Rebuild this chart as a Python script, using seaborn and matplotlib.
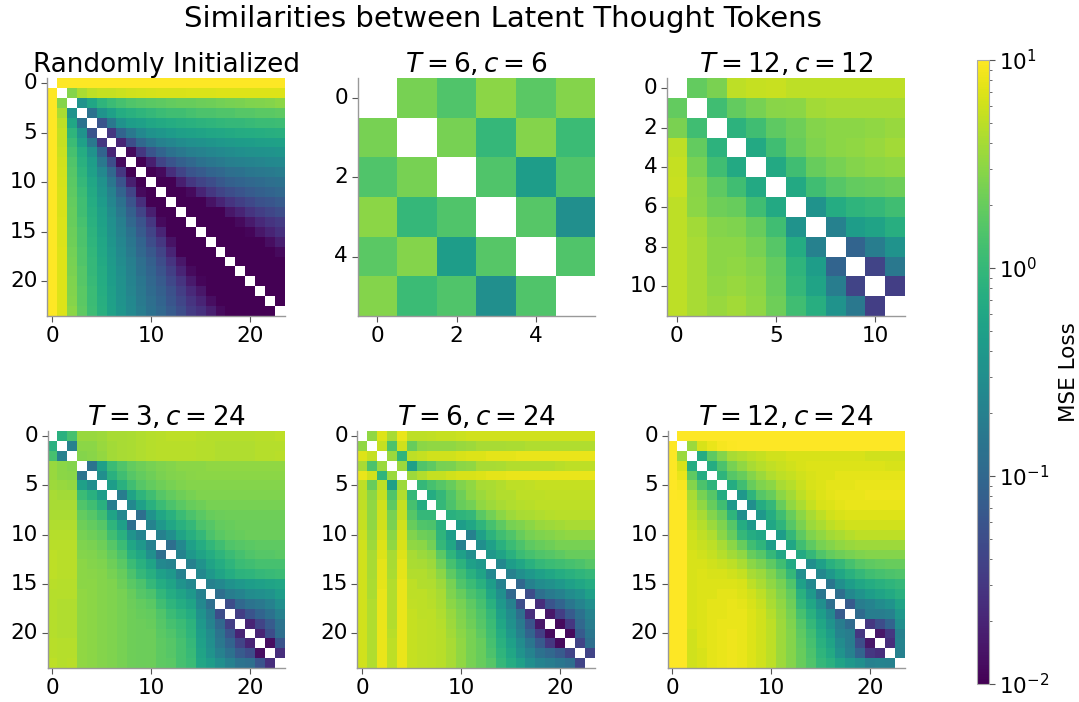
import numpy as np
import matplotlib
matplotlib.use("Agg")
import matplotlib.pyplot as plt
import seaborn as sns
from matplotlib.colors import LogNorm

# -----------------------------------
# DATA (upper triangle of each symmetric matrix)
# row i holds columns i+1 .. n-1, diagonal is blank
# -----------------------------------

random_rows = [
    [10, 10, 10, 10, 10, 10, 10, 10, 10, 10, 10, 10, 10, 10, 10, 10, 10, 10, 10, 10, 10, 10, 10],
    [2.8, 4.2, 5, 5.5, 5.5, 5.8, 6, 6.2, 6.4, 6.5, 6.5, 6.5, 6.8, 6.8, 6.8, 7, 7, 7, 7, 7, 7, 7],
    [.35, .6, .9, 1.1, 1.3, 1.5, 1.6, 1.7, 1.8, 1.9, 2, 2, 2.1, 2.2, 2.3, 2.4, 2.5, 2.6, 2.7, 2.8, 3],
    [.13, .35, .5, .7, .8, .9, 1, 1.1, 1.2, 1.2, 1.3, 1.4, 1.4, 1.5, 1.5, 1.6, 1.6, 1.7, 1.7, 1.8],
    [.06, .16, .33, .45, .5, .6, .65, .7, .75, .8, .85, .9, .95, 1, 1, 1.05, 1.1, 1.1, 1.15],
    [.03, .09, .16, .25, .33, .38, .43, .48, .52, .55, .6, .62, .65, .68, .7, .72, .75, .78],
    [.02, .05, .1, .15, .2, .24, .28, .31, .34, .37, .4, .42, .44, .46, .48, .5, .52],
    [.012, .03, .06, .09, .13, .16, .19, .21, .24, .26, .28, .3, .32, .34, .35, .37],
    [.01, .018, .04, .06, .08, .1, .13, .15, .17, .19, .2, .22, .23, .25, .26],
    [.01, .012, .025, .04, .06, .07, .09, .1, .12, .13, .15, .16, .17, .18],
    [.01, .01, .018, .03, .04, .05, .065, .08, .09, .1, .11, .12, .13],
    [.01, .01, .012, .02, .03, .04, .05, .06, .07, .08, .09, .1],
    [.01, .01, .01, .014, .02, .028, .036, .045, .055, .062, .07],
    [.01, .01, .01, .01, .015, .02, .028, .035, .042, .05],
    [.01, .01, .01, .01, .012, .016, .022, .028, .033],
    [.01, .01, .01, .01, .011, .015, .02, .026],
    [.01, .01, .01, .01, .01, .013, .018],
    [.01, .01, .01, .01, .01, .012],
    [.01, .01, .01, .01, .01],
    [.01, .01, .01, .01],
    [.01, .01, .01],
    [.01, .01],
    [.01],
]

t6_c6_rows = [
    [2.4, 1.5, 3, 1.7, 2.8],
    [2.4, 1.0, 2.8, 1.1],
    [1.5, .45, 1.5],
    [1.6, .3],
    [1.5],
]

t12_c12_rows = [
    [1.9, 2.5, 5, 5.5, 5.6, 5, 5, 5, 5, 5, 5],
    [1.2, 1.9, 2.4, 2.9, 3, 3.8, 4, 4, 4, 4],
    [.85, 1.2, 1.8, 2.2, 2.8, 3, 3, 3.2, 3.4],
    [.65, 1.2, 2.0, 2.6, 3, 3.2, 3.4, 3.8],
    [.65, 1.2, 2.0, 2.4, 2.8, 3, 3.2],
    [.65, 1.2, 1.6, 1.9, 2, 2.2],
    [.35, .7, .9, 1, 1.2],
    [.2, .45, .55, .75],
    [.09, .18, .35],
    [.04, .16],
    [.035],
]

t3_c24_rows = [
    [.8, 1.3, 3.4, 3.4, 3.6, 4, 4, 4.2, 4.4, 4.6, 4.8, 5, 5, 5, 4.8, 4.6, 4.6, 4.6, 4.6, 4.6, 4.8, 4.8, 5],
    [.2, 3, 3, 3.4, 3.8, 4, 4.2, 4.4, 4.6, 4.8, 4.8, 4.8, 4.8, 4.6, 4.6, 4.4, 4.4, 4.4, 4.4, 4.6, 4.6, 4.6],
    [2.8, 2.9, 3.3, 3.8, 4, 4.2, 4.4, 4.6, 4.8, 4.8, 4.8, 4.8, 4.6, 4.6, 4.4, 4.4, 4.4, 4.4, 4.6, 4.6, 4.8],
    [.14, .5, 1.1, 1.5, 1.9, 2.2, 2.4, 2.6, 2.8, 3, 3, 3, 3.2, 3.2, 3.2, 3.2, 3.2, 3.2, 3.2, 3.2],
    [.3, .8, 1.2, 1.6, 1.9, 2.2, 2.5, 2.7, 2.8, 2.9, 3, 3, 3, 3, 3, 3, 3, 3, 3],
    [.45, .8, 1.2, 1.6, 1.9, 2.2, 2.4, 2.6, 2.8, 2.8, 2.8, 2.8, 2.8, 2.8, 2.8, 2.8, 2.8, 2.8],
    [.18, .55, .9, 1.2, 1.6, 1.9, 2.2, 2.4, 2.6, 2.6, 2.6, 2.6, 2.6, 2.6, 2.6, 2.6, 2.6],
    [.25, .5, .8, 1.1, 1.4, 1.7, 2, 2.2, 2.4, 2.4, 2.4, 2.4, 2.4, 2.4, 2.4, 2.4],
    [.12, .35, .6, .8, 1.1, 1.4, 1.7, 2, 2.1, 2.2, 2.2, 2.2, 2.2, 2.2, 2.2],
    [.22, .4, .6, .8, 1, 1.4, 1.6, 1.9, 2, 2.1, 2.1, 2.1, 2.1, 2.1],
    [.2, .3, .55, .75, 1, 1.4, 1.7, 1.9, 2, 2.1, 2.1, 2.1, 2.1],
    [.12, .25, .5, .7, .95, 1.2, 1.5, 1.6, 1.7, 1.8, 1.8, 1.8],
    [.22, .4, .55, .7, .9, 1.1, 1.3, 1.5, 1.6, 1.6, 1.7],
    [.2, .35, .55, .7, .9, 1.1, 1.2, 1.3, 1.3, 1.3],
    [.25, .4, .55, .7, .85, .9, 1, 1.05, 1.1],
    [.2, .25, .33, .4, .45, .5, .55, .6],
    [.12, .18, .22, .28, .3, .35, .45],
    [.05, .1, .14, .16, .2, .3],
    [.035, .06, .09, .13, .2],
    [.02, .04, .07, .14],
    [.02, .05, .12],
    [.013, .06],
    [.025],
]

t6_c24_rows = [
    [3.2, 7, 4, 8, 5, 5, 5.2, 5.5, 5.5, 5.8, 6, 6, 6, 6, 6, 6, 6, 6, 6, 6, 6, 6, 6],
    [5.5, 1.4, 6, 2, 3, 3.2, 3.2, 3.2, 3.4, 3.6, 4, 4, 4, 4.2, 4.2, 4.4, 4.4, 4.4, 4.4, 4.4, 4.4, 4.4],
    [3.5, .9, 5, 5.5, 6, 6, 6, 6.5, 7, 7, 7.5, 7.5, 7.5, 8, 8, 8, 8, 8, 8, 8, 8],
    [3.5, .5, 1.5, 1.8, 2.4, 2.5, 3, 3.2, 4, 4, 4.2, 4.5, 4.5, 4.5, 4.5, 4.5, 4.8, 5, 5, 5],
    [3.6, 4.5, 5.5, 5.5, 6, 6.5, 6.5, 7, 7.5, 7.5, 8, 8, 8, 8, 8, 8, 8, 8, 8],
    [1, 1.3, 1.6, 2, 2.7, 3.2, 4, 4.2, 4.5, 5, 5, 5.2, 5.5, 5.5, 5.5, 5.5, 5.5, 5.5],
    [.7, 1, 1.5, 2.2, 3, 3.5, 4, 4.5, 4.5, 5, 5, 5, 5.2, 5.2, 5.2, 5.2, 5.2],
    [1, 1.4, 2, 2.3, 3.2, 3.6, 4, 4.4, 4.6, 4.8, 5, 5, 5, 5, 5, 5],
    [.8, .9, 1, 1.7, 2.3, 3, 3.6, 4, 4.2, 4.4, 4.6, 4.8, 4.8, 4.8, 4.8],
    [.45, .6, .9, 1.3, 1.8, 2.4, 2.6, 3, 3.4, 3.6, 3.8, 4, 4, 4],
    [.2, .5, .85, 1.2, 1.5, 2, 2.4, 2.6, 2.8, 3, 3.2, 3.2, 3.2],
    [.3, .5, .8, 1.1, 1.4, 1.8, 2, 2.2, 2.4, 2.4, 2.4, 2.4],
    [.4, .55, .8, 1.1, 1.3, 1.5, 1.6, 1.8, 2, 2, 2],
    [.25, .45, .6, .8, 1, 1.1, 1.2, 1.3, 1.4, 1.6],
    [.2, .3, .4, .5, .6, .7, .8, .9, 1],
    [.1, .2, .28, .32, .4, .5, .6, .7],
    [.05, .12, .17, .2, .28, .35, .5],
    [.025, .06, .09, .15, .22, .3],
    [.015, .035, .07, .13, .22],
    [.012, .03, .1, .18],
    [.012, .07, .15],
    [.04, .12],
    [.04],
]

t12_c24_rows = [
    [10, 10, 10, 10, 10, 10, 10, 10, 10, 10, 10, 10, 10, 10, 10, 10, 10, 10, 10, 10, 10, 10, 10],
    [3.5, 6.5, 8, 9, 9.5, 10, 10, 10, 10, 10, 10, 10, 10, 10, 10, 10, 10, 10, 10, 10, 10, 10],
    [.7, 1.8, 2.8, 4, 4.5, 5, 5.5, 6, 6, 6.5, 6.5, 6.5, 6.5, 6.5, 6.5, 6.5, 6.5, 6, 6, 6, 6],
    [.7, 1.4, 2.4, 3.2, 4, 4.6, 5.2, 5.6, 6, 6.5, 7, 7, 7, 7, 7, 7, 7, 7, 6.5, 6.5],
    [.9, 1.6, 2, 2.8, 3.5, 4.4, 5, 5.5, 6, 6.5, 7, 7, 7.5, 7.5, 7.5, 7.5, 7.5, 7.5, 7.5],
    [.7, 1.2, 2, 2.6, 3, 4, 4.6, 5.6, 6.5, 7, 7.5, 7.5, 7.5, 8, 8, 8, 8, 8],
    [.4, .9, 1.6, 2, 3, 3.8, 5, 6, 7, 7.5, 8, 8, 8, 8.5, 8.5, 8.5, 8.5],
    [.3, .7, 1, 2, 3.2, 4.2, 5.4, 6.5, 7, 7.5, 8, 8, 8, 8, 8, 8],
    [.4, .7, 1.2, 2, 3, 4, 5, 6, 6.5, 7, 7, 7, 7, 7, 7],
    [.6, .9, 1.6, 2.5, 3.5, 4.2, 5, 5.6, 6, 6, 6, 6, 6, 6],
    [.45, 1, 1.8, 2.6, 3.2, 3.8, 4.2, 4.6, 5, 5, 5, 5, 5],
    [.6, 1.2, 1.8, 2.4, 2.8, 3.2, 3.4, 3.6, 3.6, 3.6, 3.6, 3.6],
    [.65, 1, 1.5, 1.9, 2.2, 2.4, 2.6, 2.8, 2.8, 2.8, 2.8],
    [.3, .5, .8, 1, 1.3, 1.6, 1.8, 1.9, 2, 2],
    [.25, .4, .6, .8, 1, 1.2, 1.3, 1.4, 1.5],
    [.15, .3, .45, .6, .7, .8, .9, 1],
    [.12, .25, .35, .45, .55, .65, .8],
    [.07, .18, .22, .28, .35, .55],
    [.11, .18, .18, .2, .4],
    [.03, .05, .09, .3],
    [.015, .03, .2],
    [.025, .22],
    [.2],
]

panel_titles = [
    "Randomly Initialized", r"$T = 6, c = 6$", r"$T = 12, c = 12$",
    r"$T = 3, c = 24$", r"$T = 6, c = 24$", r"$T = 12, c = 24$",
]
panel_rows = [random_rows, t6_c6_rows, t12_c12_rows, t3_c24_rows, t6_c24_rows, t12_c24_rows]
x_steps = [10, 2, 5, 10, 10, 10]
y_steps = [5, 2, 2, 5, 5, 5]


def to_matrix(rows):
    n = len(rows) + 1
    mat = np.full((n, n), np.nan)
    for i, row in enumerate(rows):
        assert len(row) == n - i - 1, (n, i, len(row))
        mat[i, i + 1:] = row
        mat[i + 1:, i] = row
    return mat


# -----------------------------------
# FIGURE
# -----------------------------------

sns.set_theme(style="ticks", rc={"text.color": "black", "axes.labelcolor": "black",
                                 "xtick.labelcolor": "black", "ytick.labelcolor": "black"})
W, H = 1079, 702
fig = plt.figure(figsize=(W / 100, H / 100), dpi=100)


def px_axes(left, top, right, bottom):
    return fig.add_axes([left / W, 1 - bottom / H, (right - left) / W, (bottom - top) / H])


boxes = [
    (47, 78, 285, 316), (357, 78, 596, 316), (667, 78, 905, 316),
    (47, 431, 285, 668), (357, 431, 595, 668), (667, 431, 905, 668),
]
cax = px_axes(977, 60, 989, 684)
norm = LogNorm(vmin=0.01, vmax=10)

cb = None
for k in range(6):
    ax = px_axes(*boxes[k])
    mat = to_matrix(panel_rows[k])
    n = mat.shape[0]
    sns.heatmap(mat, ax=ax, cmap="viridis", norm=norm, square=True,
                cbar=k == 0, cbar_ax=cax if k == 0 else None,
                cbar_kws={"label": "MSE Loss"} if k == 0 else None)
    if k == 0:
        cb = ax.collections[0].colorbar
    xt = np.arange(0, n, x_steps[k])
    yt = np.arange(0, n, y_steps[k])
    ax.set_xticks(xt + 0.5, labels=[str(v) for v in xt], rotation=0)
    ax.set_yticks(yt + 0.5, labels=[str(v) for v in yt], rotation=0)
    ax.tick_params(labelsize=15.5, length=4, width=0.8, color="#555555", labelcolor="black", pad=3)
    for side in ["left", "bottom"]:
        ax.spines[side].set_visible(True)
        ax.spines[side].set_color("#999999")
        ax.spines[side].set_linewidth(1)
    ax.set_title(panel_titles[k], fontsize=18.9, pad=4, color="black")

cb.outline.set_visible(True)
cb.outline.set_linewidth(0.8)
cb.outline.set_edgecolor("#aaaaaa")
cb.ax.tick_params(which="major", labelsize=15.5, length=4, width=0.8, color="#555555", labelcolor="black")
cb.ax.tick_params(which="minor", length=2, width=0.6, color="#555555")
cb.set_label("MSE Loss", fontsize=15.5, labelpad=7, color="black")

fig.text(503 / W, 1 - 19 / H, "Similarities between Latent Thought Tokens",
         fontsize=21, ha="center", va="center", color="black")

fig.savefig("out.png", dpi=100)
